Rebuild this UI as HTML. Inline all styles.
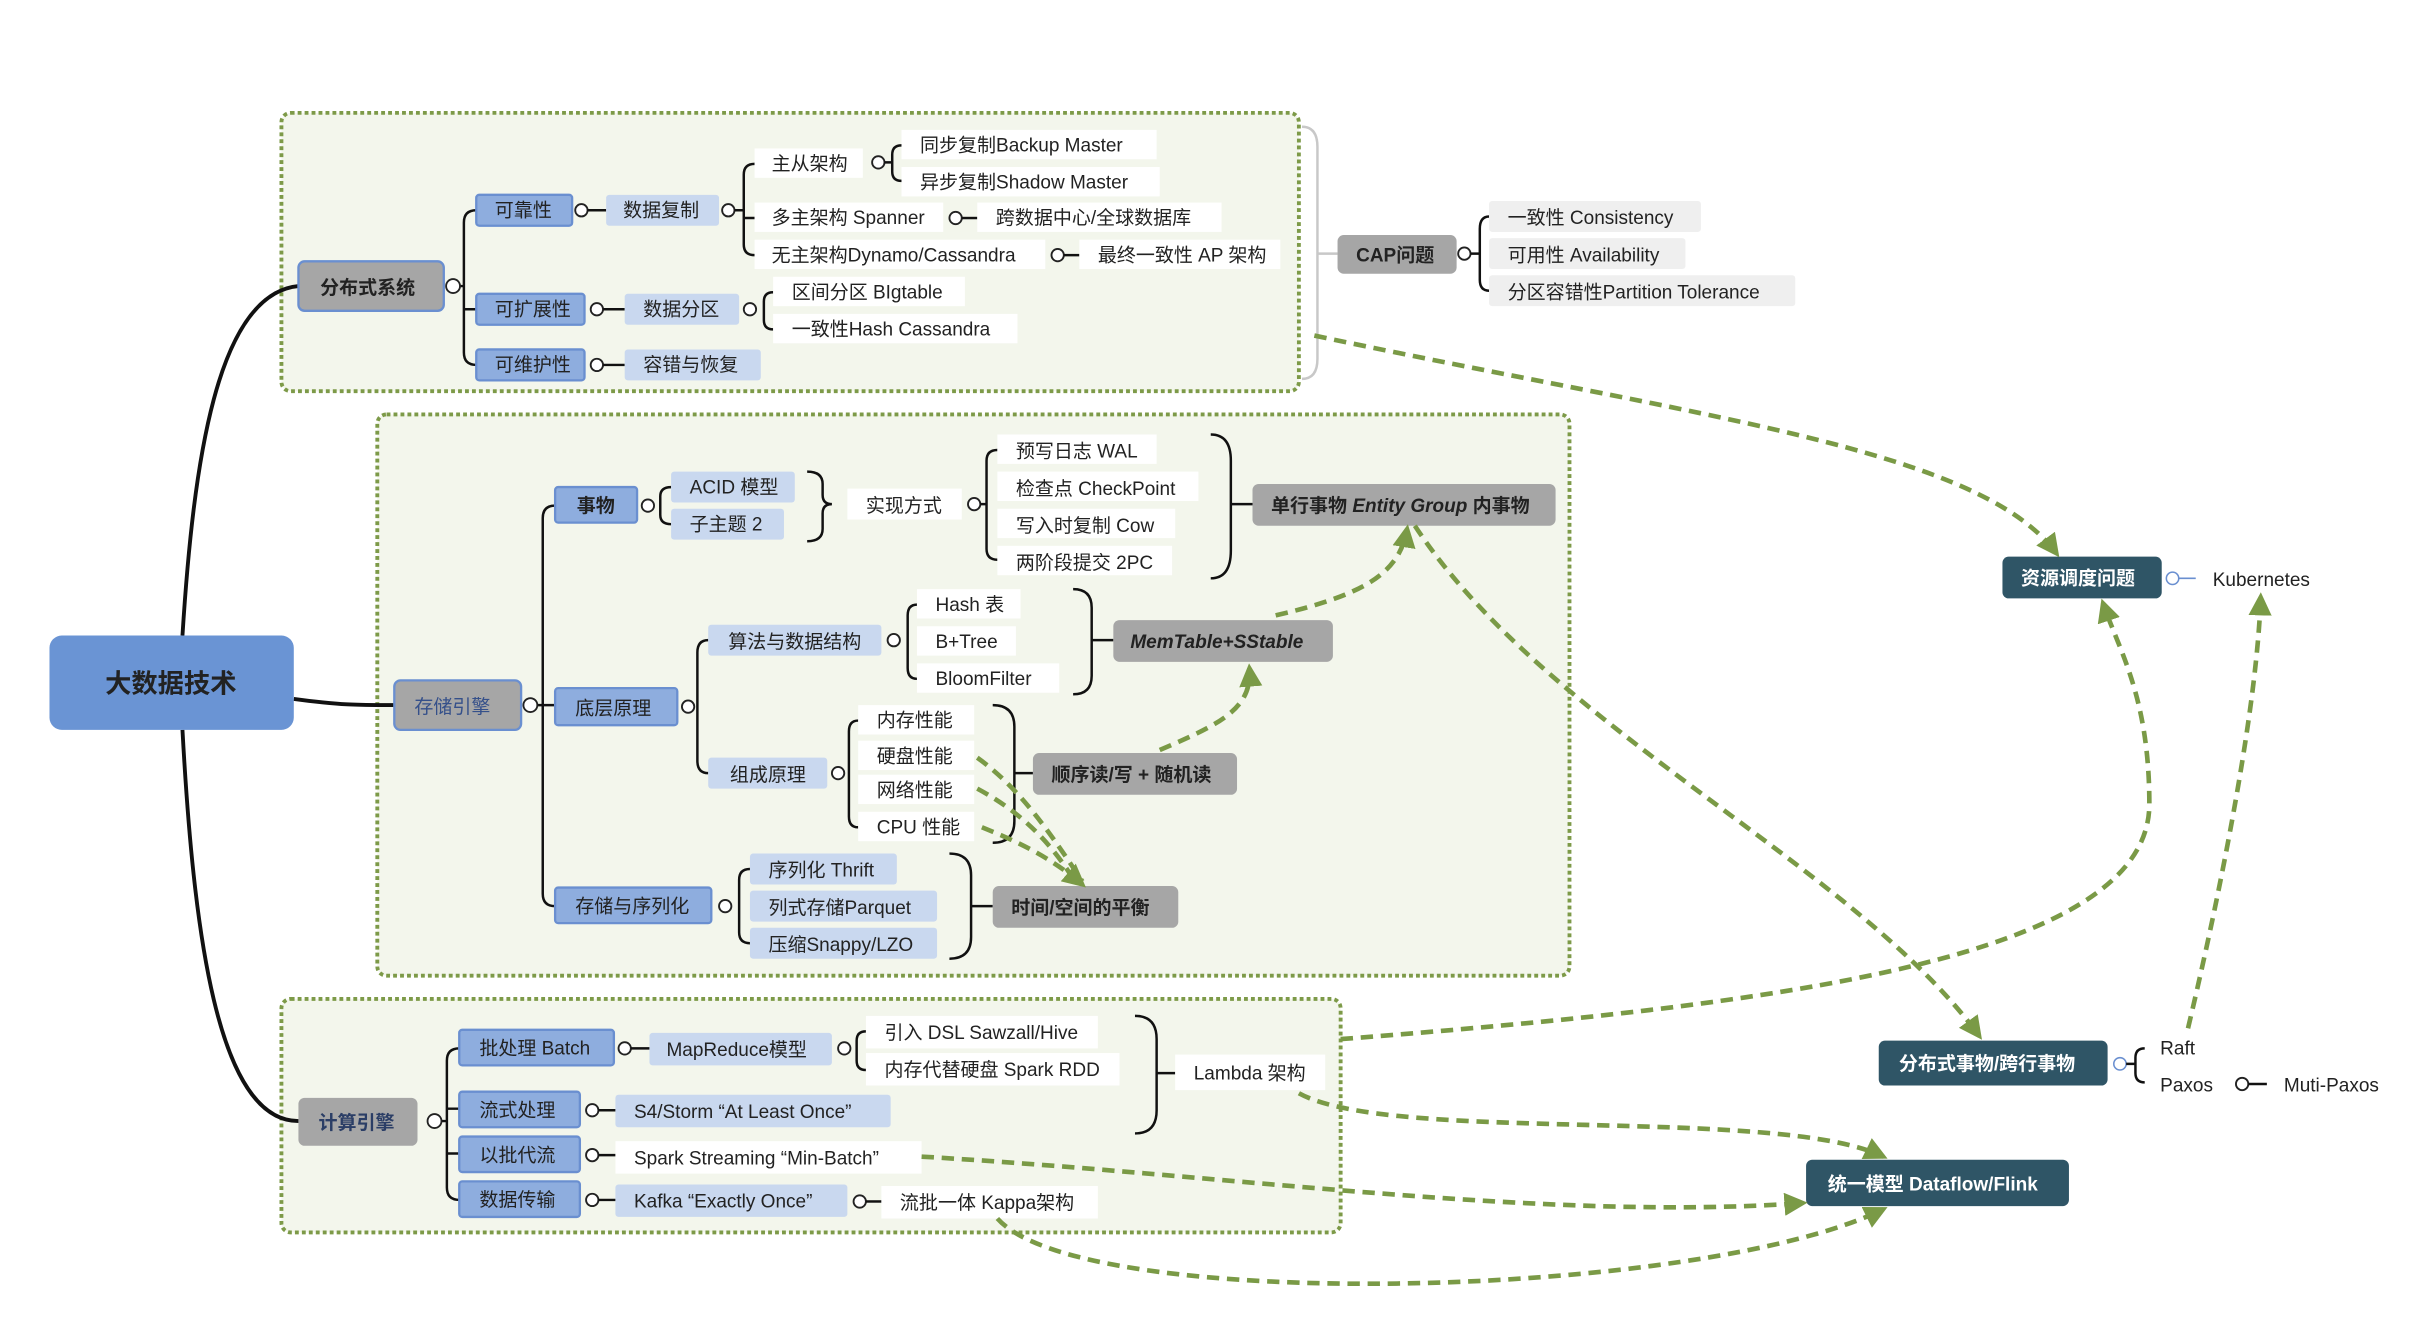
<!DOCTYPE html>
<html><head><meta charset="utf-8"><style>
html,body{margin:0;padding:0;background:#fff;width:2424px;height:1336px;overflow:hidden}
svg{display:block}
text{font-family:"Liberation Sans","Noto Sans CJK SC",sans-serif;font-size:12.3px;fill:#222}
.b{font-weight:bold}
.w{fill:#fff;font-weight:bold}
.box{fill:#f3f6ec;stroke:#7d9a48;stroke-width:2.5;stroke-dasharray:2.5 2}
.blue{fill:#8eadde;stroke:#6a8fd0;stroke-width:1.5}
.lb{fill:#c9d8ef}
.wh{fill:#fff}
.gr{fill:#a6a6a6}
.lg{fill:#efefef}
.dk{fill:#2f5566}
.ln{fill:none;stroke:#111;stroke-width:1.6}
.ar{fill:none;stroke:#7a9a46;stroke-width:3;stroke-dasharray:8 5}
.c{fill:#fff;stroke:#222;stroke-width:1.2}
</style></head><body>
<svg width="2424" height="1336" viewBox="0 0 1567 864" preserveAspectRatio="xMinYMin meet" xmlns="http://www.w3.org/2000/svg">
<defs><marker id="m" viewBox="0 0 10 10" refX="8" refY="5" markerWidth="5" markerHeight="5" orient="auto"><path d="M0,0 L10,5 L0,10z" fill="#7a9a46"/></marker></defs>
<rect class="box" x="182" y="73" width="658" height="180" rx="6"/>
<rect class="box" x="244" y="268" width="771" height="363" rx="6"/>
<rect class="box" x="182" y="646" width="685" height="151" rx="6"/>
<path class="ln" d="M118,411 C125,300 140,190 193,185" style="stroke-width:2.5"/>
<path class="ln" d="M118,472 C125,600 140,725 193,725" style="stroke-width:2.5"/>
<path class="ln" d="M190,452 C220,456 230,456 255,456" style="stroke-width:2.5"/>
<rect x="32" y="411" width="158" height="61" rx="8" fill="#6a94d4"/>
<text x="68" y="448" class="b" style="font-size:17px">大数据技术</text>

<path class="ln" d="M308,136 Q300,136 300,144 L300,228 Q300,236 308,236 M300,200 L308,200 M293,185 L300,185"/>
<rect x="193" y="169" width="94" height="32" rx="4" class="gr" stroke="#6a8fd0" stroke-width="1.5"/>
<text x="207" y="190" class="b">分布式系统</text><circle class="c" cx="293" cy="185" r="4.5"/>
<rect x="308" y="126" width="62" height="20" rx="2" class="blue"/><text x="320" y="140">可靠性</text>
<circle class="c" cx="376" cy="136" r="4"/><path class="ln" d="M380,136 L392,136"/>
<rect x="392" y="126" width="73" height="20" rx="2" class="lb"/><text x="403" y="140">数据复制</text>
<circle class="c" cx="471" cy="136" r="4"/>
<path class="ln" d="M488,106 Q481,106 481,113 L481,158 Q481,165 488,165 M475,136 L481,136 M481,141 L488,141"/>
<rect x="488" y="96" width="70" height="19" class="wh"/><text x="499" y="110">主从架构</text>
<circle class="c" cx="568" cy="105" r="4"/>
<path class="ln" d="M583,94 Q577,94 577,100 L577,111 Q577,117 583,117 M572,105 L577,105"/>
<rect x="583" y="84" width="165" height="19" class="wh"/><text x="595" y="98">同步复制Backup Master</text>
<rect x="583" y="108" width="167" height="19" class="wh"/><text x="595" y="122">异步复制Shadow Master</text>
<rect x="488" y="131" width="122" height="19" class="wh"/><text x="499" y="145">多主架构 Spanner</text>
<circle class="c" cx="618" cy="141" r="4"/><path class="ln" d="M622,141 L632,141"/>
<rect x="632" y="131" width="158" height="19" class="wh"/><text x="644" y="145">跨数据中心/全球数据库</text>
<rect x="488" y="155" width="188" height="19" class="wh"/><text x="499" y="169">无主架构Dynamo/Cassandra</text>
<circle class="c" cx="684" cy="165" r="4"/><path class="ln" d="M688,165 L698,165"/>
<rect x="698" y="155" width="130" height="19" class="wh"/><text x="710" y="169">最终一致性 AP 架构</text>
<rect x="308" y="190" width="70" height="20" rx="2" class="blue"/><text x="320" y="204">可扩展性</text>
<circle class="c" cx="386" cy="200" r="4"/><path class="ln" d="M390,200 L404,200"/>
<rect x="404" y="190" width="74" height="20" rx="2" class="lb"/><text x="416" y="204">数据分区</text>
<circle class="c" cx="485" cy="200" r="4"/>
<path class="ln" d="M500,189 Q494,189 494,195 L494,207 Q494,213 500,213"/>
<rect x="500" y="179" width="124" height="19" class="wh"/><text x="512" y="193">区间分区 BIgtable</text>
<rect x="500" y="203" width="158" height="19" class="wh"/><text x="512" y="217">一致性Hash Cassandra</text>
<rect x="308" y="226" width="70" height="20" rx="2" class="blue"/><text x="320" y="240">可维护性</text>
<circle class="c" cx="386" cy="236" r="4"/><path class="ln" d="M390,236 L404,236"/>
<rect x="404" y="226" width="88" height="20" rx="2" class="lb"/><text x="416" y="240">容错与恢复</text>
<path d="M842,82 Q852,82 852,95 L852,232 Q852,245 842,245 M852,164 L865,164" fill="none" stroke="#c8c8c8" stroke-width="1.6"/>
<rect x="865" y="152" width="77" height="25" rx="4" class="gr"/><text x="877" y="169" class="b">CAP问题</text>
<circle class="c" cx="947" cy="164" r="4"/>
<path class="ln" d="M963,140 Q957,140 957,148 L957,181 Q957,188 963,188 M951,164 L957,164"/>
<rect x="963" y="130" width="137" height="20" rx="2" class="lg"/><text x="975" y="145">一致性 Consistency</text>
<rect x="963" y="154" width="127" height="20" rx="2" class="lg"/><text x="975" y="169">可用性 Availability</text>
<rect x="963" y="178" width="198" height="20" rx="2" class="lg"/><text x="975" y="193">分区容错性Partition Tolerance</text>

<path class="ln" d="M359,327 Q351,327 351,335 L351,578 Q351,586 359,586 M343,456 L359,456"/>
<rect x="255" y="440" width="82" height="32" rx="4" class="gr" stroke="#6a8fd0" stroke-width="1.5"/>
<text x="268" y="461" style="fill:#35508a">存储引擎</text><circle class="c" cx="343" cy="456" r="4.5"/>
<rect x="359" y="315" width="53" height="23" rx="2" class="blue"/><text x="373" y="331" class="b">事物</text>
<circle class="c" cx="419" cy="327" r="4"/>
<path class="ln" d="M434,315 Q427,315 427,321 L427,333 Q427,339 434,339"/>
<rect x="434" y="305" width="80" height="20" rx="2" class="lb"/><text x="446" y="319">ACID 模型</text>
<rect x="434" y="329" width="73" height="20" rx="2" class="lb"/><text x="446" y="343">子主题 2</text>
<path class="ln" d="M522,305 Q532,305 532,313 L532,320 Q532,326 538,326 Q532,326 532,332 L532,342 Q532,350 522,350"/>
<rect x="548" y="316" width="74" height="20" class="wh"/><text x="560" y="331">实现方式</text>
<circle class="c" cx="630" cy="326" r="4"/>
<path class="ln" d="M645,291 Q638,291 638,298 L638,355 Q638,362 645,362 M634,326 L638,326"/>
<rect x="645" y="281" width="103" height="19" class="wh"/><text x="657" y="296">预写日志 WAL</text>
<rect x="645" y="305" width="130" height="19" class="wh"/><text x="657" y="320">检查点 CheckPoint</text>
<rect x="645" y="329" width="115" height="19" class="wh"/><text x="657" y="344">写入时复制 Cow</text>
<rect x="645" y="353" width="113" height="19" class="wh"/><text x="657" y="368">两阶段提交 2PC</text>
<path class="ln" d="M783,281 Q796,281 796,298 L796,356 Q796,374 783,374 M796,326 L810,326"/>
<rect x="810" y="313" width="196" height="27" rx="4" class="gr"/><text x="822" y="331" class="b">单行事物 <tspan font-style="italic">Entity Group</tspan> 内事物</text>
<rect x="359" y="445" width="79" height="24" rx="2" class="blue"/><text x="372" y="462">底层原理</text>
<circle class="c" cx="445" cy="457" r="4"/>
<path class="ln" d="M458,414 Q451,414 451,422 L451,492 Q451,500 458,500"/>
<rect x="458" y="404" width="112" height="20" rx="2" class="lb"/><text x="471" y="419">算法与数据结构</text>
<circle class="c" cx="578" cy="414" r="4"/>
<path class="ln" d="M593,391 Q587,391 587,398 L587,432 Q587,439 593,439"/>
<rect x="593" y="381" width="67" height="19" class="wh"/><text x="605" y="395">Hash 表</text>
<rect x="593" y="405" width="64" height="19" class="wh"/><text x="605" y="419">B+Tree</text>
<rect x="593" y="429" width="92" height="19" class="wh"/><text x="605" y="443">BloomFilter</text>
<path class="ln" d="M694,381 Q706,381 706,393 L706,437 Q706,449 694,449 M706,414 L720,414"/>
<rect x="720" y="401" width="142" height="27" rx="4" class="gr"/><text x="731" y="419" class="b" font-style="italic">MemTable+SStable</text>
<rect x="458" y="490" width="77" height="20" rx="2" class="lb"/><text x="472" y="505">组成原理</text>
<circle class="c" cx="542" cy="500" r="4"/>
<path class="ln" d="M555,466 Q549,466 549,473 L549,528 Q549,535 555,535"/>
<rect x="555" y="456" width="75" height="19" class="wh"/><text x="567" y="470">内存性能</text>
<rect x="555" y="479" width="75" height="19" class="wh"/><text x="567" y="493">硬盘性能</text>
<rect x="555" y="501" width="75" height="19" class="wh"/><text x="567" y="515">网络性能</text>
<rect x="555" y="525" width="75" height="19" class="wh"/><text x="567" y="539">CPU 性能</text>
<path class="ln" d="M642,456 Q656,456 656,470 L656,531 Q656,545 642,545 M656,500 L668,500"/>
<rect x="668" y="487" width="132" height="27" rx="4" class="gr"/><text x="680" y="505" class="b">顺序读/写 + 随机读</text>
<rect x="359" y="574" width="101" height="23" rx="2" class="blue"/><text x="372" y="590">存储与序列化</text>
<circle class="c" cx="469" cy="586" r="4"/>
<path class="ln" d="M485,562 Q478,562 478,569 L478,603 Q478,610 485,610"/>
<rect x="485" y="552" width="95" height="20" rx="2" class="lb"/><text x="497" y="567">序列化 Thrift</text>
<rect x="485" y="576" width="121" height="20" rx="2" class="lb"/><text x="497" y="591">列式存储Parquet</text>
<rect x="485" y="600" width="121" height="20" rx="2" class="lb"/><text x="497" y="615">压缩Snappy/LZO</text>
<path class="ln" d="M614,552 Q628,552 628,566 L628,606 Q628,620 614,620 M628,586 L642,586"/>
<rect x="642" y="573" width="120" height="27" rx="4" class="gr"/><text x="654" y="591" class="b">时间/空间的平衡</text>

<path class="ln" d="M297,678 Q289,678 289,686 L289,768 Q289,776 297,776 M277,725 L289,725 M289,717 L297,717 M289,746 L297,746"/>
<rect x="193" y="710" width="77" height="31" rx="4" class="gr"/><text x="206" y="730" class="b" style="fill:#2b3e66">计算引擎</text>
<circle class="c" cx="281" cy="725" r="4.5"/>
<rect x="297" y="666" width="100" height="23" rx="2" class="blue"/><text x="310" y="682">批处理 Batch</text>
<circle class="c" cx="404" cy="678" r="4"/><path class="ln" d="M408,678 L420,678"/>
<rect x="420" y="668" width="118" height="21" rx="2" class="lb"/><text x="431" y="683">MapReduce模型</text>
<circle class="c" cx="546" cy="678" r="4"/>
<path class="ln" d="M560,667 Q554,667 554,673 L554,686 Q554,692 560,692"/>
<rect x="560" y="657" width="150" height="21" class="wh"/><text x="572" y="672">引入 DSL Sawzall/Hive</text>
<rect x="560" y="681" width="164" height="21" class="wh"/><text x="572" y="696">内存代替硬盘 Spark RDD</text>
<path class="ln" d="M734,657 Q748,657 748,672 L748,718 Q748,733 734,733 M748,694 L760,694"/>
<rect x="760" y="682" width="97" height="23" class="wh"/><text x="772" y="698">Lambda 架构</text>
<rect x="297" y="706" width="78" height="23" rx="2" class="blue"/><text x="310" y="722">流式处理</text>
<circle class="c" cx="383" cy="718" r="4"/><path class="ln" d="M387,718 L398,718"/>
<rect x="398" y="708" width="178" height="21" rx="2" class="lb"/><text x="410" y="723">S4/Storm “At Least Once”</text>
<rect x="297" y="735" width="78" height="23" rx="2" class="blue"/><text x="310" y="751">以批代流</text>
<circle class="c" cx="383" cy="747" r="4"/><path class="ln" d="M387,747 L398,747"/>
<rect x="398" y="738" width="198" height="21" class="wh"/><text x="410" y="753">Spark Streaming “Min-Batch”</text>
<rect x="297" y="764" width="78" height="23" rx="2" class="blue"/><text x="310" y="780">数据传输</text>
<circle class="c" cx="383" cy="776" r="4"/><path class="ln" d="M387,776 L398,776"/>
<rect x="398" y="766" width="150" height="21" rx="2" class="lb"/><text x="410" y="781">Kafka “Exactly Once”</text>
<circle class="c" cx="556" cy="777" r="4"/><path class="ln" d="M560,777 L570,777"/>
<rect x="570" y="767" width="140" height="21" class="wh"/><text x="582" y="782">流批一体 Kappa架构</text>

<rect x="1295" y="360" width="103" height="27" rx="4" class="dk"/><text x="1307" y="378" class="w">资源调度问题</text>
<circle cx="1405" cy="374" r="4" fill="#fff" stroke="#6a8fd0"/><path d="M1409,374 L1420,374" stroke="#6a8fd0"/>
<text x="1431" y="379">Kubernetes</text>
<rect x="1215" y="673" width="148" height="29" rx="4" class="dk"/><text x="1228" y="692" class="w">分布式事物/跨行事物</text>
<circle cx="1371" cy="688" r="4" fill="#fff" stroke="#6a8fd0"/>
<path class="ln" d="M1387,678 Q1381,678 1381,684 L1381,694 Q1381,700 1387,700 M1375,688 L1381,688"/>
<text x="1397" y="682">Raft</text><text x="1397" y="706">Paxos</text>
<circle class="c" cx="1450" cy="701" r="4"/><path class="ln" d="M1454,701 L1466,701"/>
<text x="1477" y="706">Muti-Paxos</text>
<rect x="1168" y="750" width="170" height="30" rx="4" class="dk"/><text x="1182" y="770" class="w">统一模型 Dataflow/Flink</text>

<path class="ar" marker-end="url(#m)" d="M850,217 C1100,270 1280,290 1330,358"/>
<path class="ar" marker-end="url(#m)" d="M750,485 C790,468 810,458 808,432"/>
<path class="ar" marker-end="url(#m)" d="M825,398 C880,385 905,372 910,342"/>
<path class="ar" marker-end="url(#m)" d="M915,340 C1000,470 1200,560 1280,670"/>
<path class="ar" d="M632,490 C660,510 680,540 700,570"/>
<path class="ar" d="M632,510 C660,525 680,545 695,570"/>
<path class="ar" marker-end="url(#m)" d="M635,535 C660,545 680,555 700,572"/>
<path class="ar" marker-end="url(#m)" d="M867,672 C1150,650 1390,620 1390,520 C1390,450 1370,420 1360,390"/>
<path class="ar" marker-end="url(#m)" d="M1415,665 C1440,560 1460,450 1462,386"/>
<path class="ar" marker-end="url(#m)" d="M840,707 C900,740 1150,715 1218,748"/>
<path class="ar" marker-end="url(#m)" d="M596,748 C800,760 1000,790 1166,778"/>
<path class="ar" marker-end="url(#m)" d="M645,788 C700,850 1100,840 1218,782"/>
</svg>
</body></html>
